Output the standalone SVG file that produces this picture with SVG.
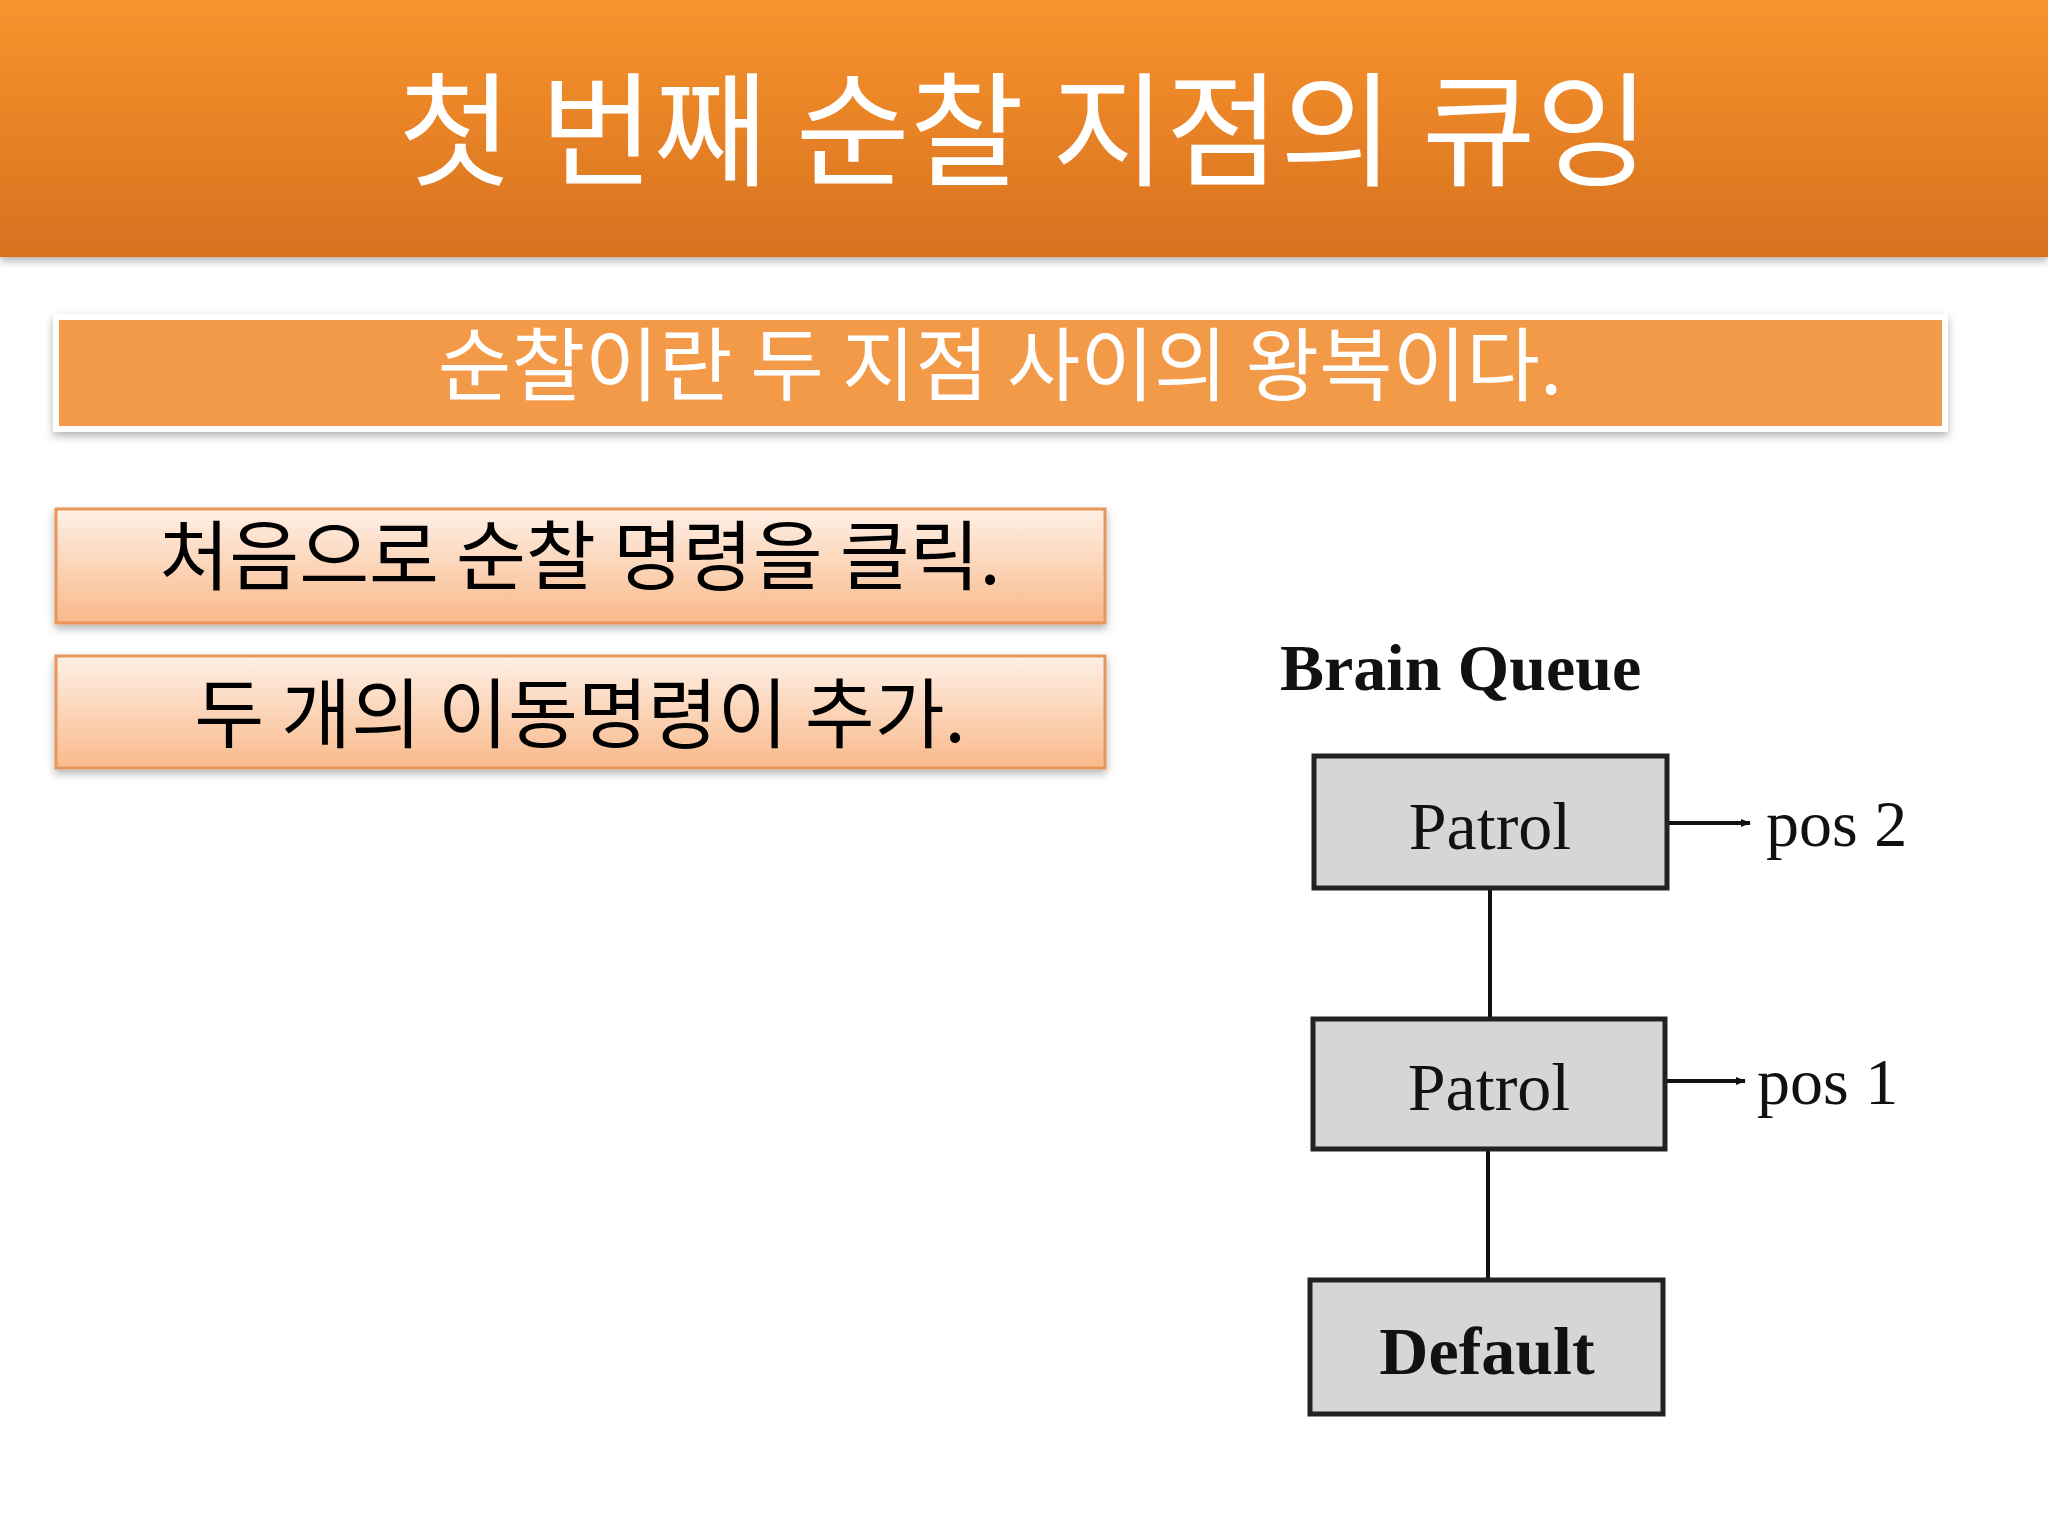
<svg xmlns="http://www.w3.org/2000/svg" width="2048" height="1536" viewBox="0 0 2048 1536">
<defs>
<linearGradient id="hdr" x1="0" y1="0" x2="0" y2="1"><stop offset="0" stop-color="#f8942e"/><stop offset="1" stop-color="#d8711f"/></linearGradient>
<linearGradient id="bx" x1="0" y1="0" x2="0" y2="1"><stop offset="0" stop-color="#fef0e6"/><stop offset="1" stop-color="#f9b98a"/></linearGradient>
<marker id="ah" markerWidth="10" markerHeight="8" refX="9" refY="4" orient="auto" markerUnits="userSpaceOnUse"><path d="M0,0 L10,4 L0,8 z" fill="#111"/></marker>
<filter id="sh" x="-5%" y="-20%" width="110%" height="150%"><feDropShadow dx="0" dy="4" stdDeviation="4" flood-color="#000" flood-opacity="0.3"/></filter>
</defs>
<style>
.ko{font-family:"Noto Sans CJK KR","Noto Sans",sans-serif}
.box{fill:url(#bx);stroke:#e8965a;stroke-width:3}
.nd{fill:#d6d6d6;stroke:#222;stroke-width:5}
.tm{font-family:"Liberation Serif",serif;fill:#111}
</style>
<rect width="2048" height="1536" fill="#fff"/>
<g id="header"><rect x="0" y="0" width="2048" height="257" fill="url(#hdr)" filter="url(#sh)"/>
<text x="1024" y="176" text-anchor="middle" class="ko" font-size="124" fill="#fff">첫 번째 순찰 지점의 큐잉</text></g>
<g id="banner"><rect x="56" y="317" width="1889" height="112" fill="#f39a4a" stroke="#fff" stroke-width="6" filter="url(#sh)"/>
<text x="1000" y="394" text-anchor="middle" class="ko" font-size="80" fill="#fff">순찰이란 두 지점 사이의 왕복이다.</text></g>
<g id="box1"><rect x="56" y="509" width="1049" height="114" class="box" filter="url(#sh)"/>
<text x="580" y="584" text-anchor="middle" class="ko" font-size="76">처음으로 순찰 명령을 클릭.</text></g>
<g id="box2"><rect x="56" y="656" width="1049" height="112" class="box" filter="url(#sh)"/>
<text x="580" y="742" text-anchor="middle" class="ko" font-size="76">두 개의 이동명령이 추가.</text></g>
<text x="1280" y="690" class="tm" font-size="66" font-weight="bold">Brain Queue</text>
<g id="connectors" stroke="#111" stroke-width="4" fill="none">
<line x1="1490" y1="888" x2="1490" y2="1019"/>
<line x1="1488" y1="1149" x2="1488" y2="1280"/>
<line x1="1667" y1="823" x2="1750" y2="823" marker-end="url(#ah)"/>
<line x1="1665" y1="1081" x2="1745" y2="1081" marker-end="url(#ah)"/>
</g>
<g id="patrol1"><rect x="1314" y="756" width="353" height="132" class="nd"/><text x="1490" y="849" text-anchor="middle" class="tm" font-size="68">Patrol</text></g>
<g id="patrol2"><rect x="1313" y="1019" width="352" height="130" class="nd"/><text x="1489" y="1110" text-anchor="middle" class="tm" font-size="68">Patrol</text></g>
<g id="default"><rect x="1310" y="1280" width="353" height="134" class="nd"/><text x="1487" y="1374" text-anchor="middle" class="tm" font-size="68" font-weight="bold">Default</text></g>
<text x="1766" y="846" class="tm" font-size="66">pos 2</text>
<text x="1757" y="1104" class="tm" font-size="66">pos 1</text>
</svg>
